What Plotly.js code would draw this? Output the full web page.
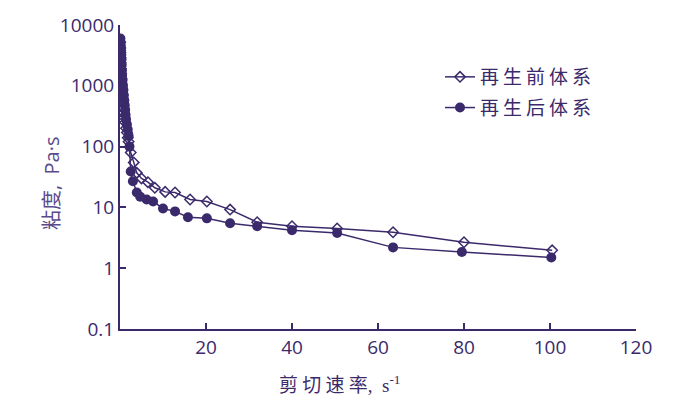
<!DOCTYPE html>
<html>
<head>
<meta charset="utf-8">
<script src="https://cdn.plot.ly/plotly-3.0.1.min.js"></script>
<style>
html,body{margin:0;padding:0;background:#fff;}
#chart{width:685px;height:398px;}
.legendtext{letter-spacing:4px;}
</style>
</head>
<body>
<div id="chart"></div>
<script>
// 再生前体系 (open diamonds)
const shearBefore = [0.05,0.08,0.1,0.13,0.16,0.2,0.25,0.3,0.35,0.4,0.5,0.6,0.7,0.8,0.9,1.0,1.2,1.4,1.6,1.8,2.0,2.5,3.2,3.9,5.0,6.5,8.1,10.5,12.8,16.3,20.2,25.6,31.9,40,50.5,63.5,80,100.5];
const viscBefore  = [5200,4200,3500,2900,2400,1900,1600,1300,1100,900,750,620,520,430,360,300,250,200,170,140,120,80,55,37,30,26,21,18,17.6,13.5,12.5,9.2,5.7,4.9,4.5,3.9,2.67,1.97];
// 再生后体系 (filled circles)
const shearAfter = [0.1,0.15,0.2,0.25,0.3,0.35,0.4,0.45,0.5,0.6,0.7,0.8,0.9,1.0,1.1,1.2,1.3,1.4,1.6,1.8,2.0,2.2,2.5,3.0,3.9,4.7,6.2,7.7,10,12.8,15.8,20.2,25.6,31.9,40,50.5,63.5,79.5,100.3];
const viscAfter  = [6000,5200,4500,3800,3200,2700,2200,1800,1500,1250,1000,850,700,580,480,400,330,280,230,190,150,100,39,27,17.6,15,13.5,12.5,9.6,8.6,6.9,6.6,5.5,4.9,4.2,3.8,2.2,1.85,1.5];
const legendNames = ["再生前体系","再生后体系"];
const yTickVals = [0.1,1,10,100,1000,10000];
const yTickText = ["0.1","1","10","100","1000","10000"];
const xTickVals = [20,40,60,80,100,120];
const xTitle = "剪 切 速 率<span style='font-family:Liberation Serif'>,  s<sup>-1</sup></span>";
const yTitle = "粘度<span style='font-family:Open Sans'>,  Pa·s</span>";

const C = "#3b2a6b";
const traces = [
  {x: shearBefore, y: viscBefore, name: legendNames[0], legendgroup: "a", mode: "lines+markers",
   line: {color: C, width: 1.5},
   marker: {symbol: "diamond-open", size: 8, color: C, line: {color: C, width: 1.5}}},
  {x: shearAfter, y: viscAfter, name: legendNames[1], legendgroup: "b", mode: "lines+markers",
   line: {color: C, width: 1.5},
   marker: {symbol: "circle", size: 10, color: C}}
];
const font = "'Open Sans','Noto Sans','Noto Sans CJK SC',sans-serif";
const cjk = "'Noto Sans CJK SC',sans-serif";
const layout = {
  width: 685, height: 398,
  margin: {l: 120, r: 49, t: 25, b: 69},
  paper_bgcolor: "#fff", plot_bgcolor: "#fff",
  font: {family: font, color: C, size: 17},
  showlegend: true,
  legend: {x: (440-120)/516, y: (329-58)/304, xanchor: "left", yanchor: "top", bgcolor: "rgba(0,0,0,0)",
           font: {family: cjk, size: 19, color: C},
           tracegroupgap: 3, itemwidth: 30},
  xaxis: {range: [0, 120], tickmode: "array", tickvals: xTickVals, ticks: "inside", ticklen: 6,
          tickwidth: 2, tickcolor: C, showline: true, linecolor: C, linewidth: 2, showgrid: false,
          zeroline: false, tickfont: {size: 19, color: C}},
  yaxis: {type: "log", range: [-1, 4], tickmode: "array", tickvals: yTickVals, ticktext: yTickText,
          ticks: "inside", ticklen: 6, tickwidth: 2, tickcolor: C, showline: true, linecolor: C,
          linewidth: 2, showgrid: false, zeroline: false, tickfont: {size: 19, color: C}},
  annotations: [
    {text: xTitle, xref: "paper", yref: "paper", x: (340-120)/516, y: (329-383)/304,
     xanchor: "center", yanchor: "middle", showarrow: false, font: {family: cjk, size: 19, color: C}},
    {text: yTitle, xref: "paper", yref: "paper", x: (50-120)/516, y: (329-183)/304, textangle: -90,
     xanchor: "center", yanchor: "middle", showarrow: false, font: {family: cjk, size: 20, color: "#5a4a8c"}}
  ]
};
Plotly.newPlot("chart", traces, layout, {displayModeBar: false, staticPlot: true});
</script>
</body>
</html>
